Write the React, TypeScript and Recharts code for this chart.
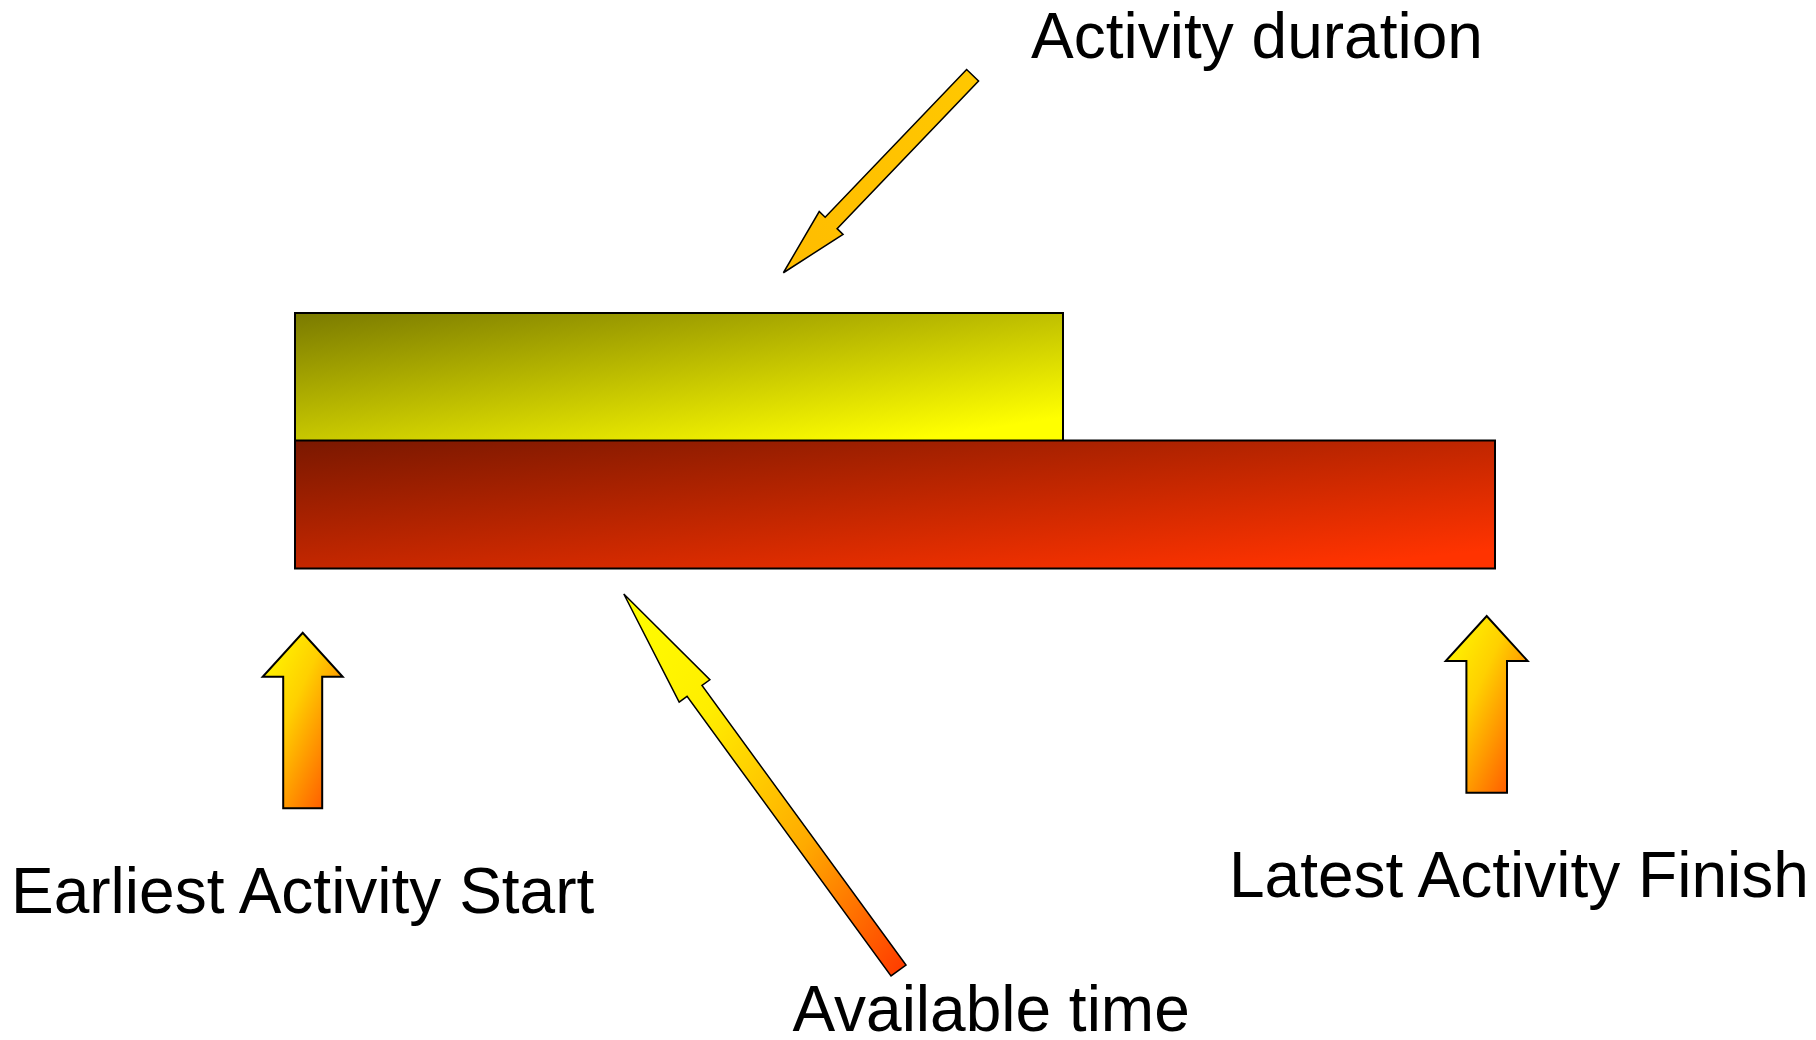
import React from 'react';
import { BarChart, Bar, XAxis, YAxis, Cell, ReferenceDot } from 'recharts';

// Schedule rows (time units measured from the earliest start)
const rows = ['Activity duration', 'Available time'];
const rowEnds = [6.4, 10];
const rowFills = ['url(#fillDuration)', 'url(#fillAvailable)'];

// Milestones marked below the bars
const milestoneLabels = ['Earliest Activity Start', 'Latest Activity Finish'];
const milestoneTimes = [0, 10];

// Callouts pointing at the bars
const calloutLabels = ['Activity duration', 'Available time'];
const calloutTimes = [4.07, 2.74];
const calloutRows = ['Activity duration', 'Available time'];

const data = rows.map((row, i) => ({ row, end: rowEnds[i] }));

const FONT = '"Liberation Sans", Arial, Helvetica, sans-serif';

type Pt = [number, number];

function arrowPoints(tip: Pt, tail: Pt, shaft: number, headW: number, headL: number): string {
  const vx = tip[0] - tail[0];
  const vy = tip[1] - tail[1];
  const len = Math.hypot(vx, vy);
  const dx = vx / len;
  const dy = vy / len;
  const nx = -dy;
  const ny = dx;
  const hx = tip[0] - dx * headL;
  const hy = tip[1] - dy * headL;
  const pts: Pt[] = [
    [tail[0] + nx * shaft / 2, tail[1] + ny * shaft / 2],
    [hx + nx * shaft / 2, hy + ny * shaft / 2],
    [hx + nx * headW / 2, hy + ny * headW / 2],
    tip,
    [hx - nx * headW / 2, hy - ny * headW / 2],
    [hx - nx * shaft / 2, hy - ny * shaft / 2],
    [tail[0] - nx * shaft / 2, tail[1] - ny * shaft / 2],
  ];
  return pts.map((p) => `${p[0].toFixed(2)},${p[1].toFixed(2)}`).join(' ');
}

// Upward arrows under the milestones, with their captions
const milestoneStyle = [
  { dx: 7.7, dy: 128.5, len: 175.6, shaft: 39, headW: 80, headL: 44, labelDx: -284, labelDy: 408.75 },
  { dx: -8.3, dy: 111.75, len: 176.7, shaft: 40.6, headW: 82, headL: 45, labelDx: -266, labelDy: 392.75 },
];

// Slanted callout arrows, with their captions
const calloutStyle = [
  { tipDy: -104, tailDx: 189.2, tailDy: -197.5, shaft: 16.5, headW: 33, headL: 69, fill: 'url(#calloutDuration)', labelDx: 247.7, labelDy: -214.7 },
  { tipDy: 89.75, tailDx: 274.7, tailDy: 376.5, shaft: 18.5, headW: 38, headL: 120, fill: 'url(#calloutAvailable)', labelDx: 168.7, labelDy: 437 },
];

const makeMilestoneShape = (i: number) => (props: any) => {
  const s = milestoneStyle[i];
  const cx = props.cx + s.dx;
  const tipY = props.cy + s.dy;
  const tip: Pt = [cx, tipY];
  const tail: Pt = [cx, tipY + s.len];
  return (
    <g>
      <polygon
        points={arrowPoints(tip, tail, s.shaft, s.headW, s.headL)}
        fill="url(#milestoneArrow)"
        stroke="#000"
        strokeWidth={2}
        strokeLinejoin="miter"
      />
      <text
        x={props.cx + s.labelDx}
        y={props.cy + s.labelDy}
        fontFamily={FONT}
        fontSize={64}
        fill="#000"
      >
        {milestoneLabels[i]}
      </text>
    </g>
  );
};

const makeCalloutShape = (i: number) => (props: any) => {
  const s = calloutStyle[i];
  const tip: Pt = [props.cx, props.cy + s.tipDy];
  const tail: Pt = [tip[0] + s.tailDx, tip[1] + s.tailDy];
  return (
    <g>
      <polygon
        points={arrowPoints(tip, tail, s.shaft, s.headW, s.headL)}
        fill={s.fill}
        stroke="#000"
        strokeWidth={1.5}
        strokeLinejoin="miter"
      />
      <text
        x={tip[0] + s.labelDx}
        y={tip[1] + s.labelDy}
        fontFamily={FONT}
        fontSize={64}
        fill="#000"
      >
        {calloutLabels[i]}
      </text>
    </g>
  );
};

export default function App() {
  return (
    <div style={{ position: 'absolute', left: 0, top: 0, width: 1816, height: 1040, background: '#fff' }}>
      <BarChart
        width={1816}
        height={1040}
        data={data}
        layout="vertical"
        margin={{ top: 313, right: 321, bottom: 472, left: 295 }}
        barCategoryGap={0}
        barGap={0}
      >
        <defs>
          <linearGradient id="fillDuration" x1="0" y1="0" x2="0.85" y2="0.95">
            <stop offset="0" stopColor="#7a7a00" />
            <stop offset="1" stopColor="#ffff00" />
          </linearGradient>
          <linearGradient id="fillAvailable" x1="0" y1="0" x2="0.9" y2="0.95">
            <stop offset="0" stopColor="#7a1800" />
            <stop offset="1" stopColor="#ff3300" />
          </linearGradient>
          <linearGradient id="milestoneArrow" x1="0" y1="0" x2="1" y2="1">
            <stop offset="0" stopColor="#ffff00" />
            <stop offset="0.4" stopColor="#ffd000" />
            <stop offset="1" stopColor="#ff4000" />
          </linearGradient>
          <linearGradient id="calloutDuration" x1="1" y1="0" x2="0" y2="1">
            <stop offset="0" stopColor="#ffc800" />
            <stop offset="1" stopColor="#ffbc00" />
          </linearGradient>
          <linearGradient id="calloutAvailable" x1="0" y1="0" x2="1" y2="1">
            <stop offset="0" stopColor="#ffff00" />
            <stop offset="0.3" stopColor="#ffee00" />
            <stop offset="0.65" stopColor="#ffaa00" />
            <stop offset="1" stopColor="#ff3800" />
          </linearGradient>
        </defs>
        <XAxis type="number" domain={[0, 10]} hide />
        <YAxis type="category" dataKey="row" hide width={0} />
        <Bar dataKey="end" stroke="#000" strokeWidth={2} isAnimationActive={false}>
          {data.map((d, i) => (
            <Cell key={d.row} fill={rowFills[i]} />
          ))}
        </Bar>
        {milestoneTimes.map((t, i) => (
          <ReferenceDot
            key={milestoneLabels[i]}
            x={t}
            y={rows[1]}
            r={0}
            ifOverflow="visible"
            shape={makeMilestoneShape(i)}
          />
        ))}
        {calloutTimes.map((t, i) => (
          <ReferenceDot
            key={calloutLabels[i]}
            x={t}
            y={calloutRows[i]}
            r={0}
            ifOverflow="visible"
            shape={makeCalloutShape(i)}
          />
        ))}
      </BarChart>
    </div>
  );
}
